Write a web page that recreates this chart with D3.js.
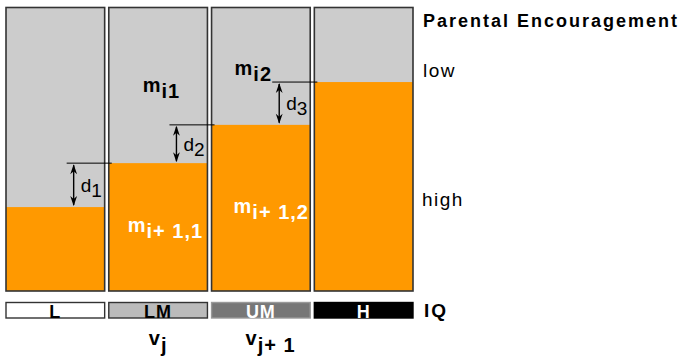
<!DOCTYPE html>
<html><head><meta charset="utf-8">
<script src="https://cdn.jsdelivr.net/npm/d3@7"></script>
<style>
html,body{margin:0;padding:0;background:#fff;}
svg{display:block;font-family:"Liberation Sans",Arial,Helvetica,sans-serif;}
</style></head>
<body>
<svg id="c" width="689" height="360"></svg>
<script>
// Data
const categories = ["L", "LM", "UM", "H"];
const highShare = [0.296, 0.451, 0.586, 0.737];   // share with high parental encouragement
const iqFill = ["#ffffff", "#bbbbbb", "#777777", "#000000"];
const iqText = ["#000000", "#000000", "#ffffff", "#ffffff"];
const legendTitle = "Parental Encouragement";
const levelLabels = ["low", "high"];

const svg = d3.select("#c");
const x = d3.scaleBand().domain(categories).range([6, 413]).paddingInner(0.04);
const y = d3.scaleLinear().domain([0, 1]).range([291, 7.5]);
const bw = x.bandwidth();

const panels = svg.append("g");
categories.forEach((c, i) => {
  const g = panels.append("g");
  g.append("rect").attr("x", x(c)).attr("y", y(1)).attr("width", bw).attr("height", y(0) - y(1)).attr("fill", "#cccccc");
  g.append("rect").attr("x", x(c)).attr("y", y(highShare[i])).attr("width", bw).attr("height", y(0) - y(highShare[i])).attr("fill", "#ff9900");
  g.append("rect").attr("x", x(c)).attr("y", y(1)).attr("width", bw).attr("height", y(0) - y(1))
    .attr("fill", "none").attr("stroke", "#333").attr("stroke-width", 1.6);
});

// reference lines and arrows
function arrowHead(g, ax, ay, dir) {
  g.append("path")
    .attr("d", `M${ax},${ay} L${ax - 3.4},${ay + dir * 10} L${ax},${ay + dir * 7} L${ax + 3.4},${ay + dir * 10} Z`)
    .attr("fill", "#000");
}
for (let i = 1; i < categories.length; i++) {
  const prev = categories[i - 1], cur = categories[i];
  const lvl = y(highShare[i]), low = y(highShare[i - 1]);
  const g = svg.append("g");
  g.append("line").attr("x1", x(prev) + bw - 38).attr("x2", x(cur) + 3)
    .attr("y1", lvl).attr("y2", lvl).attr("stroke", "#000").attr("stroke-width", 1);
  const ax = x(prev) + bw - 31;
  g.append("line").attr("x1", ax).attr("x2", ax).attr("y1", lvl + 2).attr("y2", low - 2)
    .attr("stroke", "#000").attr("stroke-width", 1.4);
  arrowHead(g, ax, lvl + 1, 1);
  arrowHead(g, ax, low - 1, -1);
  const t = g.append("text").attr("x", ax + 7).attr("y", (lvl + low) / 2 + 7)
    .attr("font-size", 19).attr("fill", "#000");
  t.append("tspan").text("d");
  t.append("tspan").attr("dy", 5).text(String(i));
}

// m labels
function mLabel(xp, yp, sub, color) {
  const t = svg.append("text").attr("x", xp).attr("y", yp).attr("font-size", 20)
    .attr("font-weight", "bold").attr("fill", color).attr("letter-spacing", 1);
  t.append("tspan").text("m");
  t.append("tspan").attr("dy", 6).text(sub);
}
mLabel(x("LM") + 34, 92, "i1", "#000");
mLabel(x("UM") + 23, 75, "i2", "#000");
mLabel(x("LM") + 19, 232, "i+ 1,1", "#fff");
mLabel(x("UM") + 22, 213, "i+ 1,2", "#fff");

// IQ bars
categories.forEach((c, i) => {
  svg.append("rect").attr("x", x(c)).attr("y", 302.5).attr("width", bw).attr("height", 15.5)
    .attr("fill", iqFill[i]).attr("stroke", i === 3 ? "#000" : (i === 2 ? "#999" : "#333")).attr("stroke-width", 1.4);
  svg.append("text").attr("x", x(c) + bw / 2).attr("y", 318).attr("text-anchor", "middle")
    .attr("font-size", 18).attr("font-weight", "bold").attr("fill", iqText[i]).attr("letter-spacing", 1)
    .text(c);
});

// v labels
function vLabel(xp, sub) {
  const t = svg.append("text").attr("x", xp).attr("y", 345).attr("font-size", 20)
    .attr("font-weight", "bold").attr("fill", "#000").attr("letter-spacing", 1);
  t.append("tspan").text("v");
  t.append("tspan").attr("dy", 7).text(sub);
}
vLabel(x("LM") + 40, "j");
vLabel(x("UM") + 34, "j+ 1");

// right legend text
svg.append("text").attr("x", 423).attr("y", 27).attr("font-size", 18).attr("font-weight", "bold")
  .attr("letter-spacing", 2).text(legendTitle);
svg.append("text").attr("x", 423).attr("y", 77).attr("font-size", 19).attr("letter-spacing", 1.5).text(levelLabels[0]);
svg.append("text").attr("x", 422).attr("y", 206).attr("font-size", 19).attr("letter-spacing", 1.5).text(levelLabels[1]);
svg.append("text").attr("x", 424).attr("y", 317).attr("font-size", 19).attr("font-weight", "bold")
  .attr("letter-spacing", 2).text("IQ");
</script>
</body></html>
